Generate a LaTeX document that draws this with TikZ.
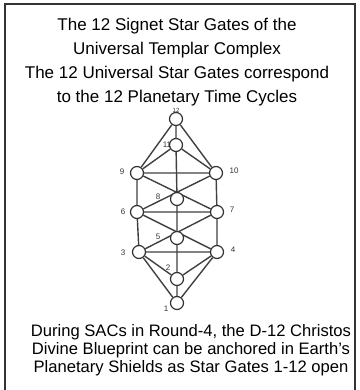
\documentclass[tikz,border=0pt]{standalone}
\usepackage{fontspec}
\setmainfont{Liberation Sans}
\usetikzlibrary{backgrounds}

\tikzset{gate/.style={circle,draw=black!80,fill=white,line width=1.2pt,minimum size=13pt,inner sep=0pt},
  link/.style={draw=black!75,line width=1.4pt},
  num/.style={font=\fontsize{8}{8}\selectfont,text=black!80,inner sep=0pt}}

\begin{document}
\begin{tikzpicture}[x=1pt,y=-1pt,every node/.style={align=center}]
\useasboundingbox (0,0) rectangle (359,390);
\draw[line width=1.6pt,black!80] (5,390)--(5,4)--(355,4)--(355,390);
\node[font=\fontsize{17}{24}\selectfont] (title) at (177,62.5) {The 12 Signet Star Gates of the\\Universal Templar Complex\\The 12 Universal Star Gates correspond\\to the 12 Planetary Time Cycles};
\node[font=\fontsize{16.6}{18}\selectfont] (note) at (191,350) {During SACs in Round-4, the D-12 Christos\\Divine Blueprint can be anchored in Earth's\\Planetary Shields as Star Gates 1-12 open};
% the twelve gates
\node[gate] (g12) at (176,119) {};
\node[gate] (g11) at (176,145) {};
\node[gate] (g9) at (137,173) {};\node[gate] (g10) at (216,173) {};
\node[gate] (g8) at (177,199) {};
\node[gate] (g6) at (137,212) {};\node[gate] (g7) at (217,212) {};
\node[gate] (g5) at (177,238) {};
\node[gate] (g3) at (139,252) {};\node[gate] (g4) at (217,252) {};
\node[gate] (g2) at (177,279) {};
\node[gate] (g1) at (177,303) {};
% numbers
\node[num,font=\fontsize{6}{6}\selectfont] (n12) at (176,110.6) {12};\node[num] (n11) at (167,145) {11};
\node[num] (n9) at (122,172) {9};\node[num] (n10) at (234,171) {10};
\node[num] (n8) at (158,197) {8};
\node[num] (n6) at (123,212) {6};\node[num] (n7) at (232,210) {7};
\node[num] (n5) at (158,237) {5};
\node[num] (n3) at (123,253) {3};\node[num] (n4) at (233,250) {4};
\node[num] (n2) at (168,268) {2};\node[num] (n1) at (166,309) {1};
\begin{pgfonlayer}{background}
\path[link] (g12)--(g11) (g12)--(g9) (g12)--(g10) (g11)--(g9) (g11)--(g10) (g11)--(g8);
\path[link] (g9)--(g10) (g9)--(g6) (g10)--(g7) (g9)--(g7) (g10)--(g6) (g8)--(g5);
\path[link] (g6)--(g7) (g6)--(g3) (g7)--(g4) (g6)--(g4) (g7)--(g3) (g5)--(g2);
\path[link] (g3)--(g4) (g3)--(g2) (g4)--(g2) (g3)--(g1) (g4)--(g1) (g2)--(g1);
\end{pgfonlayer}
\end{tikzpicture}
\end{document}
